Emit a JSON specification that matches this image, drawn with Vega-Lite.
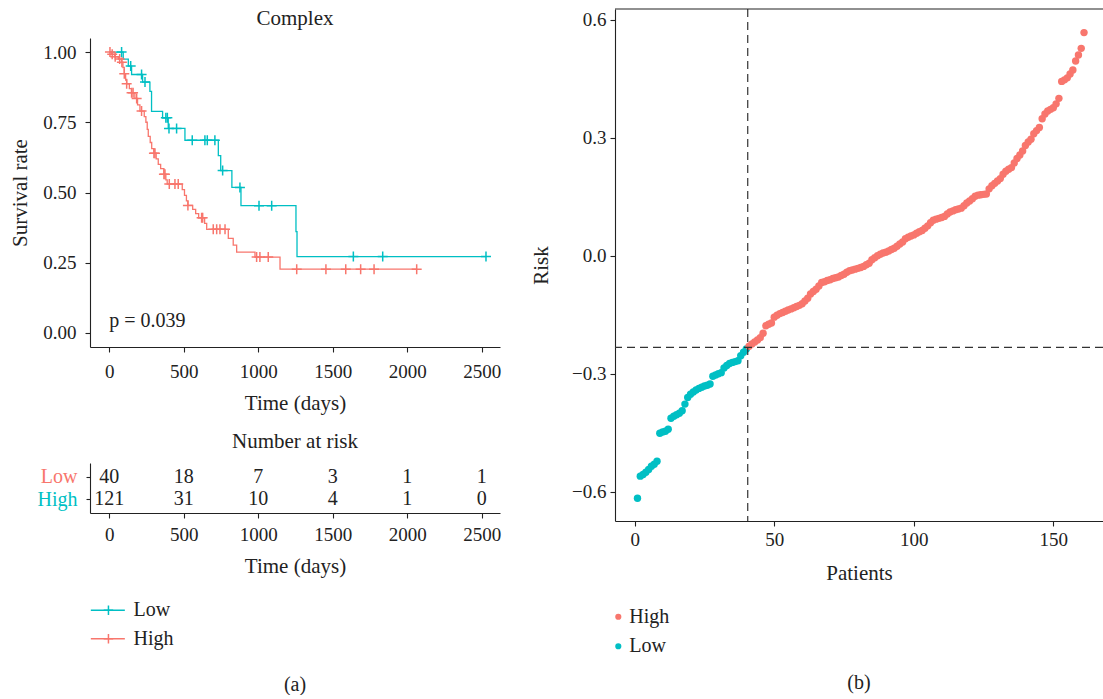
{
  "$schema": "https://vega.github.io/schema/vega-lite/v6.json",
  "padding": {"left": 9, "top": 8, "right": 0, "bottom": 0},
  "background": "white",
  "config": {
    "font": "Liberation Serif",
    "view": {"stroke": null},
    "axis": {
      "grid": false,
      "labelFontSize": 19,
      "titleFontSize": 21,
      "titleFontWeight": "normal",
      "labelColor": "#222",
      "titleColor": "#222",
      "domainColor": "#222",
      "tickColor": "#222",
      "domainWidth": 1.1,
      "tickWidth": 1.1,
      "tickSize": 5,
      "labelFlush": false,
      "labelOverlap": false
    },
    "title": {"fontSize": 21, "fontWeight": "normal", "color": "#222"}
  },
  "datasets": {
    "km": [
      {"group": "Low", "time": 0, "surv": 1.0},
      {"group": "Low", "time": 94, "surv": 0.975},
      {"group": "Low", "time": 128, "surv": 0.95},
      {"group": "Low", "time": 150, "surv": 0.92},
      {"group": "Low", "time": 224, "surv": 0.893},
      {"group": "Low", "time": 273, "surv": 0.86},
      {"group": "Low", "time": 284, "surv": 0.789},
      {"group": "Low", "time": 358, "surv": 0.766},
      {"group": "Low", "time": 396, "surv": 0.728},
      {"group": "Low", "time": 508, "surv": 0.686},
      {"group": "Low", "time": 732, "surv": 0.631},
      {"group": "Low", "time": 748, "surv": 0.578},
      {"group": "Low", "time": 823, "surv": 0.518},
      {"group": "Low", "time": 884, "surv": 0.453},
      {"group": "Low", "time": 1253, "surv": 0.361},
      {"group": "Low", "time": 1260, "surv": 0.272},
      {"group": "Low", "time": 2528, "surv": 0.272},
      {"group": "High", "time": 0, "surv": 1.0},
      {"group": "High", "time": 15, "surv": 0.992},
      {"group": "High", "time": 35, "surv": 0.983},
      {"group": "High", "time": 61, "surv": 0.975},
      {"group": "High", "time": 83, "surv": 0.964},
      {"group": "High", "time": 92, "surv": 0.945},
      {"group": "High", "time": 101, "surv": 0.923},
      {"group": "High", "time": 110, "surv": 0.9},
      {"group": "High", "time": 117, "surv": 0.887},
      {"group": "High", "time": 135, "surv": 0.87},
      {"group": "High", "time": 150, "surv": 0.855},
      {"group": "High", "time": 172, "surv": 0.835},
      {"group": "High", "time": 190, "surv": 0.812},
      {"group": "High", "time": 206, "surv": 0.79},
      {"group": "High", "time": 235, "surv": 0.77},
      {"group": "High", "time": 246, "surv": 0.75},
      {"group": "High", "time": 255, "surv": 0.725},
      {"group": "High", "time": 262, "surv": 0.7},
      {"group": "High", "time": 275, "surv": 0.678},
      {"group": "High", "time": 285, "surv": 0.656},
      {"group": "High", "time": 300, "surv": 0.64},
      {"group": "High", "time": 315, "surv": 0.62},
      {"group": "High", "time": 329, "surv": 0.6},
      {"group": "High", "time": 345, "surv": 0.585},
      {"group": "High", "time": 367, "surv": 0.565},
      {"group": "High", "time": 380, "surv": 0.545},
      {"group": "High", "time": 389, "surv": 0.53},
      {"group": "High", "time": 490, "surv": 0.51},
      {"group": "High", "time": 505, "surv": 0.49},
      {"group": "High", "time": 518, "surv": 0.47},
      {"group": "High", "time": 528, "surv": 0.454},
      {"group": "High", "time": 560, "surv": 0.44},
      {"group": "High", "time": 580, "surv": 0.425},
      {"group": "High", "time": 600, "surv": 0.41},
      {"group": "High", "time": 640, "surv": 0.39},
      {"group": "High", "time": 654, "surv": 0.369},
      {"group": "High", "time": 799, "surv": 0.337},
      {"group": "High", "time": 832, "surv": 0.313},
      {"group": "High", "time": 855, "surv": 0.288},
      {"group": "High", "time": 978, "surv": 0.27},
      {"group": "High", "time": 1146, "surv": 0.227},
      {"group": "High", "time": 2063, "surv": 0.227}
    ],
    "censor": [
      {"group": "Low", "time": 83, "surv": 1.0},
      {"group": "Low", "time": 144, "surv": 0.95},
      {"group": "Low", "time": 217, "surv": 0.92},
      {"group": "Low", "time": 240, "surv": 0.893},
      {"group": "Low", "time": 380, "surv": 0.766},
      {"group": "Low", "time": 390, "surv": 0.766},
      {"group": "Low", "time": 401, "surv": 0.728},
      {"group": "Low", "time": 452, "surv": 0.728},
      {"group": "Low", "time": 557, "surv": 0.686},
      {"group": "Low", "time": 642, "surv": 0.686},
      {"group": "Low", "time": 658, "surv": 0.686},
      {"group": "Low", "time": 709, "surv": 0.686},
      {"group": "Low", "time": 761, "surv": 0.578},
      {"group": "Low", "time": 877, "surv": 0.518},
      {"group": "Low", "time": 1005, "surv": 0.453},
      {"group": "Low", "time": 1090, "surv": 0.453},
      {"group": "Low", "time": 1638, "surv": 0.272},
      {"group": "Low", "time": 1835, "surv": 0.272},
      {"group": "Low", "time": 2528, "surv": 0.272},
      {"group": "High", "time": 5, "surv": 1.0},
      {"group": "High", "time": 20, "surv": 0.992},
      {"group": "High", "time": 40, "surv": 0.983},
      {"group": "High", "time": 70, "surv": 0.975},
      {"group": "High", "time": 85, "surv": 0.964},
      {"group": "High", "time": 101, "surv": 0.923},
      {"group": "High", "time": 117, "surv": 0.887},
      {"group": "High", "time": 150, "surv": 0.855},
      {"group": "High", "time": 160, "surv": 0.855},
      {"group": "High", "time": 184, "surv": 0.835},
      {"group": "High", "time": 217, "surv": 0.79},
      {"group": "High", "time": 300, "surv": 0.64},
      {"group": "High", "time": 307, "surv": 0.64},
      {"group": "High", "time": 367, "surv": 0.565},
      {"group": "High", "time": 374, "surv": 0.565},
      {"group": "High", "time": 403, "surv": 0.53},
      {"group": "High", "time": 441, "surv": 0.53},
      {"group": "High", "time": 463, "surv": 0.53},
      {"group": "High", "time": 528, "surv": 0.454},
      {"group": "High", "time": 620, "surv": 0.41},
      {"group": "High", "time": 627, "surv": 0.41},
      {"group": "High", "time": 698, "surv": 0.369},
      {"group": "High", "time": 721, "surv": 0.369},
      {"group": "High", "time": 743, "surv": 0.369},
      {"group": "High", "time": 777, "surv": 0.369},
      {"group": "High", "time": 989, "surv": 0.27},
      {"group": "High", "time": 1011, "surv": 0.27},
      {"group": "High", "time": 1067, "surv": 0.27},
      {"group": "High", "time": 1258, "surv": 0.227},
      {"group": "High", "time": 1454, "surv": 0.227},
      {"group": "High", "time": 1587, "surv": 0.227},
      {"group": "High", "time": 1687, "surv": 0.227},
      {"group": "High", "time": 1777, "surv": 0.227},
      {"group": "High", "time": 2063, "surv": 0.227}
    ],
    "atrisk": [
      {"group": "Low", "time": 0, "n": 40},
      {"group": "Low", "time": 500, "n": 18},
      {"group": "Low", "time": 1000, "n": 7},
      {"group": "Low", "time": 1500, "n": 3},
      {"group": "Low", "time": 2000, "n": 1},
      {"group": "Low", "time": 2500, "n": 1},
      {"group": "High", "time": 0, "n": 121},
      {"group": "High", "time": 500, "n": 31},
      {"group": "High", "time": 1000, "n": 10},
      {"group": "High", "time": 1500, "n": 4},
      {"group": "High", "time": 2000, "n": 1},
      {"group": "High", "time": 2500, "n": 0}
    ],
    "riskscore": [
      {"patient": 1, "risk": -0.616, "group": "Low"},
      {"patient": 2, "risk": -0.56, "group": "Low"},
      {"patient": 3, "risk": -0.556, "group": "Low"},
      {"patient": 4, "risk": -0.55, "group": "Low"},
      {"patient": 5, "risk": -0.543, "group": "Low"},
      {"patient": 6, "risk": -0.535, "group": "Low"},
      {"patient": 7, "risk": -0.53, "group": "Low"},
      {"patient": 8, "risk": -0.522, "group": "Low"},
      {"patient": 9, "risk": -0.451, "group": "Low"},
      {"patient": 10, "risk": -0.448, "group": "Low"},
      {"patient": 11, "risk": -0.446, "group": "Low"},
      {"patient": 12, "risk": -0.441, "group": "Low"},
      {"patient": 13, "risk": -0.413, "group": "Low"},
      {"patient": 14, "risk": -0.408, "group": "Low"},
      {"patient": 15, "risk": -0.404, "group": "Low"},
      {"patient": 16, "risk": -0.4, "group": "Low"},
      {"patient": 17, "risk": -0.394, "group": "Low"},
      {"patient": 18, "risk": -0.377, "group": "Low"},
      {"patient": 19, "risk": -0.36, "group": "Low"},
      {"patient": 20, "risk": -0.352, "group": "Low"},
      {"patient": 21, "risk": -0.346, "group": "Low"},
      {"patient": 22, "risk": -0.341, "group": "Low"},
      {"patient": 23, "risk": -0.337, "group": "Low"},
      {"patient": 24, "risk": -0.334, "group": "Low"},
      {"patient": 25, "risk": -0.331, "group": "Low"},
      {"patient": 26, "risk": -0.329, "group": "Low"},
      {"patient": 27, "risk": -0.326, "group": "Low"},
      {"patient": 28, "risk": -0.306, "group": "Low"},
      {"patient": 29, "risk": -0.303, "group": "Low"},
      {"patient": 30, "risk": -0.3, "group": "Low"},
      {"patient": 31, "risk": -0.297, "group": "Low"},
      {"patient": 32, "risk": -0.285, "group": "Low"},
      {"patient": 33, "risk": -0.279, "group": "Low"},
      {"patient": 34, "risk": -0.274, "group": "Low"},
      {"patient": 35, "risk": -0.271, "group": "Low"},
      {"patient": 36, "risk": -0.269, "group": "Low"},
      {"patient": 37, "risk": -0.267, "group": "Low"},
      {"patient": 38, "risk": -0.254, "group": "Low"},
      {"patient": 39, "risk": -0.245, "group": "Low"},
      {"patient": 40, "risk": -0.237, "group": "Low"},
      {"patient": 41, "risk": -0.23, "group": "High"},
      {"patient": 42, "risk": -0.224, "group": "High"},
      {"patient": 43, "risk": -0.219, "group": "High"},
      {"patient": 44, "risk": -0.214, "group": "High"},
      {"patient": 45, "risk": -0.208, "group": "High"},
      {"patient": 46, "risk": -0.197, "group": "High"},
      {"patient": 47, "risk": -0.178, "group": "High"},
      {"patient": 48, "risk": -0.174, "group": "High"},
      {"patient": 49, "risk": -0.171, "group": "High"},
      {"patient": 50, "risk": -0.156, "group": "High"},
      {"patient": 51, "risk": -0.151, "group": "High"},
      {"patient": 52, "risk": -0.147, "group": "High"},
      {"patient": 53, "risk": -0.144, "group": "High"},
      {"patient": 54, "risk": -0.141, "group": "High"},
      {"patient": 55, "risk": -0.138, "group": "High"},
      {"patient": 56, "risk": -0.135, "group": "High"},
      {"patient": 57, "risk": -0.132, "group": "High"},
      {"patient": 58, "risk": -0.129, "group": "High"},
      {"patient": 59, "risk": -0.126, "group": "High"},
      {"patient": 60, "risk": -0.122, "group": "High"},
      {"patient": 61, "risk": -0.115, "group": "High"},
      {"patient": 62, "risk": -0.108, "group": "High"},
      {"patient": 63, "risk": -0.097, "group": "High"},
      {"patient": 64, "risk": -0.091, "group": "High"},
      {"patient": 65, "risk": -0.085, "group": "High"},
      {"patient": 66, "risk": -0.077, "group": "High"},
      {"patient": 67, "risk": -0.068, "group": "High"},
      {"patient": 68, "risk": -0.066, "group": "High"},
      {"patient": 69, "risk": -0.063, "group": "High"},
      {"patient": 70, "risk": -0.061, "group": "High"},
      {"patient": 71, "risk": -0.058, "group": "High"},
      {"patient": 72, "risk": -0.056, "group": "High"},
      {"patient": 73, "risk": -0.054, "group": "High"},
      {"patient": 74, "risk": -0.05, "group": "High"},
      {"patient": 75, "risk": -0.047, "group": "High"},
      {"patient": 76, "risk": -0.042, "group": "High"},
      {"patient": 77, "risk": -0.038, "group": "High"},
      {"patient": 78, "risk": -0.036, "group": "High"},
      {"patient": 79, "risk": -0.034, "group": "High"},
      {"patient": 80, "risk": -0.032, "group": "High"},
      {"patient": 81, "risk": -0.03, "group": "High"},
      {"patient": 82, "risk": -0.027, "group": "High"},
      {"patient": 83, "risk": -0.023, "group": "High"},
      {"patient": 84, "risk": -0.019, "group": "High"},
      {"patient": 85, "risk": -0.01, "group": "High"},
      {"patient": 86, "risk": -0.005, "group": "High"},
      {"patient": 87, "risk": 0.0, "group": "High"},
      {"patient": 88, "risk": 0.004, "group": "High"},
      {"patient": 89, "risk": 0.007, "group": "High"},
      {"patient": 90, "risk": 0.009, "group": "High"},
      {"patient": 91, "risk": 0.012, "group": "High"},
      {"patient": 92, "risk": 0.016, "group": "High"},
      {"patient": 93, "risk": 0.019, "group": "High"},
      {"patient": 94, "risk": 0.024, "group": "High"},
      {"patient": 95, "risk": 0.03, "group": "High"},
      {"patient": 96, "risk": 0.035, "group": "High"},
      {"patient": 97, "risk": 0.043, "group": "High"},
      {"patient": 98, "risk": 0.047, "group": "High"},
      {"patient": 99, "risk": 0.05, "group": "High"},
      {"patient": 100, "risk": 0.053, "group": "High"},
      {"patient": 101, "risk": 0.057, "group": "High"},
      {"patient": 102, "risk": 0.061, "group": "High"},
      {"patient": 103, "risk": 0.064, "group": "High"},
      {"patient": 104, "risk": 0.07, "group": "High"},
      {"patient": 105, "risk": 0.076, "group": "High"},
      {"patient": 106, "risk": 0.084, "group": "High"},
      {"patient": 107, "risk": 0.09, "group": "High"},
      {"patient": 108, "risk": 0.093, "group": "High"},
      {"patient": 109, "risk": 0.095, "group": "High"},
      {"patient": 110, "risk": 0.097, "group": "High"},
      {"patient": 111, "risk": 0.1, "group": "High"},
      {"patient": 112, "risk": 0.106, "group": "High"},
      {"patient": 113, "risk": 0.111, "group": "High"},
      {"patient": 114, "risk": 0.114, "group": "High"},
      {"patient": 115, "risk": 0.117, "group": "High"},
      {"patient": 116, "risk": 0.119, "group": "High"},
      {"patient": 117, "risk": 0.121, "group": "High"},
      {"patient": 118, "risk": 0.127, "group": "High"},
      {"patient": 119, "risk": 0.134, "group": "High"},
      {"patient": 120, "risk": 0.139, "group": "High"},
      {"patient": 121, "risk": 0.145, "group": "High"},
      {"patient": 122, "risk": 0.151, "group": "High"},
      {"patient": 123, "risk": 0.154, "group": "High"},
      {"patient": 124, "risk": 0.155, "group": "High"},
      {"patient": 125, "risk": 0.156, "group": "High"},
      {"patient": 126, "risk": 0.157, "group": "High"},
      {"patient": 127, "risk": 0.17, "group": "High"},
      {"patient": 128, "risk": 0.178, "group": "High"},
      {"patient": 129, "risk": 0.184, "group": "High"},
      {"patient": 130, "risk": 0.19, "group": "High"},
      {"patient": 131, "risk": 0.196, "group": "High"},
      {"patient": 132, "risk": 0.207, "group": "High"},
      {"patient": 133, "risk": 0.215, "group": "High"},
      {"patient": 134, "risk": 0.22, "group": "High"},
      {"patient": 135, "risk": 0.224, "group": "High"},
      {"patient": 136, "risk": 0.236, "group": "High"},
      {"patient": 137, "risk": 0.247, "group": "High"},
      {"patient": 138, "risk": 0.256, "group": "High"},
      {"patient": 139, "risk": 0.266, "group": "High"},
      {"patient": 140, "risk": 0.28, "group": "High"},
      {"patient": 141, "risk": 0.289, "group": "High"},
      {"patient": 142, "risk": 0.296, "group": "High"},
      {"patient": 143, "risk": 0.31, "group": "High"},
      {"patient": 144, "risk": 0.318, "group": "High"},
      {"patient": 145, "risk": 0.326, "group": "High"},
      {"patient": 146, "risk": 0.348, "group": "High"},
      {"patient": 147, "risk": 0.36, "group": "High"},
      {"patient": 148, "risk": 0.368, "group": "High"},
      {"patient": 149, "risk": 0.372, "group": "High"},
      {"patient": 150, "risk": 0.376, "group": "High"},
      {"patient": 151, "risk": 0.386, "group": "High"},
      {"patient": 152, "risk": 0.4, "group": "High"},
      {"patient": 153, "risk": 0.443, "group": "High"},
      {"patient": 154, "risk": 0.447, "group": "High"},
      {"patient": 155, "risk": 0.452, "group": "High"},
      {"patient": 156, "risk": 0.462, "group": "High"},
      {"patient": 157, "risk": 0.472, "group": "High"},
      {"patient": 158, "risk": 0.495, "group": "High"},
      {"patient": 159, "risk": 0.51, "group": "High"},
      {"patient": 160, "risk": 0.527, "group": "High"},
      {"patient": 161, "risk": 0.567, "group": "High"}
    ],
    "keysA": [{"group": "Low"}, {"group": "High"}],
    "keysB": [{"group": "High"}, {"group": "Low"}]
  },
  "spacing": 29,
  "hconcat": [
    {
      "spacing": 9,
      "vconcat": [
        {
          "width": 410,
          "height": 20,
          "data": {"values": [{"label": "Complex"}]},
          "mark": {"type": "text", "fontSize": 21, "color": "#222", "baseline": "middle", "align": "center"},
          "encoding": {"text": {"field": "label"}}
        },
        {
          "spacing": 20,
          "vconcat": [
            {
              "spacing": 18,
              "vconcat": [
                {
                  "width": 410,
                  "height": 309,
                  "layer": [
                    {
                      "data": {"name": "km"},
                      "mark": {"type": "line", "interpolate": "step-after", "strokeWidth": 1.3},
                      "encoding": {
                        "x": {"field": "time", "type": "quantitative", "scale": {"domain": [-129, 2622], "nice": false, "zero": false},
                              "axis": {"values": [0, 500, 1000, 1500, 2000, 2500], "format": "d", "title": "Time (days)", "labelPadding": 10, "titlePadding": 11}},
                        "y": {"field": "surv", "type": "quantitative", "scale": {"domain": [-0.05, 1.05], "nice": false, "zero": false},
                              "axis": {"values": [0, 0.25, 0.5, 0.75, 1], "format": ".2f", "title": "Survival rate", "labelPadding": 9, "titlePadding": 12}},
                        "color": {"field": "group", "type": "nominal", "scale": {"domain": ["Low", "High"], "range": ["#00BFC4", "#F8766D"]}, "legend": null}
                      }
                    },
                    {
                      "data": {"name": "censor"},
                      "mark": {"type": "point", "shape": "M-1,0H1M0,-1V1", "filled": false, "strokeWidth": 1.5, "size": 100, "opacity": 1},
                      "encoding": {
                        "x": {"field": "time", "type": "quantitative"},
                        "y": {"field": "surv", "type": "quantitative"},
                        "color": {"field": "group", "type": "nominal"}
                      }
                    },
                    {
                      "data": {"values": [{"label": "p = 0.039", "time": 0, "surv": 0.043}]},
                      "mark": {"type": "text", "align": "left", "baseline": "middle", "fontSize": 20, "color": "#222"},
                      "encoding": {
                        "x": {"field": "time", "type": "quantitative"},
                        "y": {"field": "surv", "type": "quantitative"},
                        "text": {"field": "label"}
                      }
                    }
                  ]
                },
                {
                  "width": 410,
                  "height": 50,
                  "title": {"text": "Number at risk", "anchor": "middle", "offset": 11},
                  "data": {"name": "atrisk"},
                  "mark": {"type": "text", "fontSize": 20, "color": "#222", "baseline": "middle"},
                  "encoding": {
                    "x": {"field": "time", "type": "quantitative", "scale": {"domain": [-129, 2622], "nice": false, "zero": false},
                          "axis": {"values": [0, 500, 1000, 1500, 2000, 2500], "format": "d", "title": "Time (days)", "labelPadding": 7, "titlePadding": 11}},
                    "y": {"field": "group", "type": "nominal", "scale": {"type": "point", "domain": ["Low", "High"], "padding": 0.614},
                          "axis": {"title": null, "labelFontSize": 20, "labelPadding": 9, "tickSize": 4,
                                   "labelColor": {"condition": {"test": "datum.value === 'Low'", "value": "#F8766D"}, "value": "#00BFC4"}}},
                    "text": {"field": "n", "type": "quantitative"}
                  }
                }
              ]
            },
            {
              "width": 410,
              "height": 57,
              "title": {"text": "(a)", "orient": "bottom", "anchor": "middle", "offset": 22, "fontSize": 20},
              "data": {"name": "keysA"},
              "encoding": {
                "y": {"field": "group", "type": "nominal", "scale": {"type": "point", "domain": ["Low", "High"], "padding": 0.5}, "axis": null},
                "color": {"field": "group", "type": "nominal", "scale": {"domain": ["Low", "High"], "range": ["#00BFC4", "#F8766D"]}, "legend": null}
              },
              "layer": [
                {
                  "mark": {"type": "rule", "strokeWidth": 1.3},
                  "encoding": {
                    "x": {"datum": 0.02, "type": "quantitative", "scale": {"domain": [0, 10], "nice": false, "zero": false}, "axis": null},
                    "x2": {"datum": 0.85}
                  }
                },
                {
                  "mark": {"type": "point", "shape": "M-1,0H1M0,-1V1", "filled": false, "strokeWidth": 1.5, "size": 90, "opacity": 1},
                  "encoding": {"x": {"datum": 0.45, "type": "quantitative"}}
                },
                {
                  "mark": {"type": "text", "align": "left", "baseline": "middle", "fontSize": 20, "color": "#222"},
                  "encoding": {"x": {"datum": 1.06, "type": "quantitative"}, "text": {"field": "group"}, "color": {"value": "#222"}}
                }
              ]
            }
          ]
        }
      ]
    },
    {
      "spacing": 19,
      "vconcat": [
        {
          "width": 488,
          "height": 512,
          "layer": [
            {
              "data": {"name": "riskscore"},
              "mark": {"type": "circle", "size": 55, "opacity": 1},
              "encoding": {
                "x": {"field": "patient", "type": "quantitative", "scale": {"domain": [-7.06, 167.8], "nice": false, "zero": false},
                      "axis": {"values": [0, 50, 100, 150], "title": "Patients", "labelPadding": 4, "titlePadding": 13}},
                "y": {"field": "risk", "type": "quantitative", "scale": {"domain": [-0.674, 0.627], "nice": false, "zero": false},
                      "axis": {"values": [-0.6, -0.3, 0, 0.3, 0.6], "format": ".1f", "title": "Risk", "labelPadding": 4, "titlePadding": 20}},
                "color": {"field": "group", "type": "nominal", "scale": {"domain": ["Low", "High"], "range": ["#00BFC4", "#F8766D"]}, "legend": null}
              }
            },
            {
              "data": {"values": [{"patient": 40.5}]},
              "mark": {"type": "rule", "strokeDash": [8, 5], "strokeWidth": 1.2, "color": "#333"},
              "encoding": {"x": {"field": "patient", "type": "quantitative"}}
            },
            {
              "data": {"values": [{"risk": -0.233}]},
              "mark": {"type": "rule", "strokeDash": [8, 5], "strokeWidth": 1.2, "color": "#333"},
              "encoding": {"y": {"field": "risk", "type": "quantitative"}}
            },
            {
              "data": {"values": [{"risk": 0.627}]},
              "mark": {"type": "rule", "strokeWidth": 1.1, "color": "#222"},
              "encoding": {"y": {"field": "risk", "type": "quantitative"}}
            }
          ]
        },
        {
          "width": 488,
          "height": 59,
          "title": {"text": "(b)", "orient": "bottom", "anchor": "middle", "offset": 12, "fontSize": 20},
          "data": {"name": "keysB"},
          "encoding": {
            "y": {"field": "group", "type": "nominal", "scale": {"type": "point", "domain": ["High", "Low"], "padding": 0.5}, "axis": null}
          },
          "layer": [
            {
              "mark": {"type": "circle", "size": 38, "opacity": 1},
              "encoding": {
                "x": {"datum": 0.33, "type": "quantitative", "scale": {"domain": [0, 48.8], "nice": false, "zero": false}, "axis": null},
                "color": {"field": "group", "type": "nominal", "scale": {"domain": ["Low", "High"], "range": ["#00BFC4", "#F8766D"]}, "legend": null}
              }
            },
            {
              "mark": {"type": "text", "align": "left", "baseline": "middle", "fontSize": 20, "color": "#222"},
              "encoding": {"x": {"datum": 1.43, "type": "quantitative"}, "text": {"field": "group"}}
            }
          ]
        }
      ]
    }
  ]
}
